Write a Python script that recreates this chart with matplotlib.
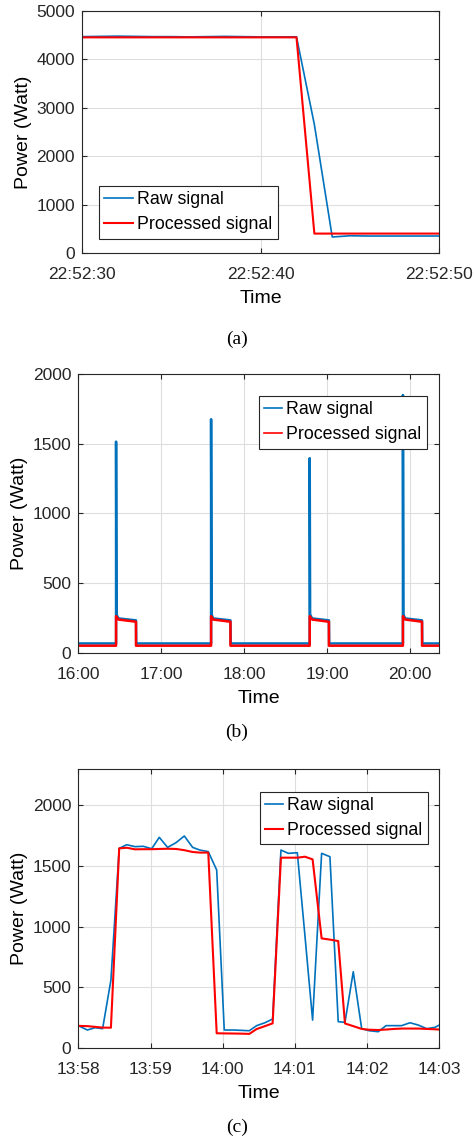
import numpy as np
import matplotlib
matplotlib.use('Agg')
import matplotlib.pyplot as plt
import matplotlib.dates as mdates

plt.rcParams.update({
    'font.family': ['Liberation Sans', 'DejaVu Sans'],
    'font.size': 12.5,
    'axes.labelsize': 14,
    'legend.fontsize': 12.8,
    'axes.edgecolor': '#262626',
    'axes.linewidth': 0.8,
    'xtick.color': '#262626',
    'ytick.color': '#262626',
    'xtick.direction': 'in',
    'ytick.direction': 'in',
    'xtick.top': True,
    'ytick.right': True,
    'xtick.major.size': 3.5,
    'ytick.major.size': 3.5,
    'xtick.major.pad': 10,
    'ytick.major.pad': 5,
})

RAW_COLOR = '#0072BD'
PROC_COLOR = '#FF0000'

# (a) seconds after 22:52:30
a_sec = [0, 1, 2, 3, 4, 5, 6, 7, 8, 9, 10, 11, 12, 13, 14, 15, 16, 17, 18, 19, 20]
a_raw = [4465, 4470, 4475, 4470, 4465, 4465, 4460, 4465, 4470, 4465, 4460, 4460, 4462,
         2650, 330, 355, 350, 350, 350, 350, 350]
a_proc = [4450, 4450, 4450, 4450, 4450, 4450, 4450, 4450, 4450, 4450, 4450, 4450, 4450,
          400, 400, 400, 400, 400, 400, 400, 400]

# (b) minutes after 16:00
b_raw_min = [0, 27.3, 27.3, 27.6, 29.0, 41.7, 41.9,
             96.0, 96.0, 96.3, 97.5, 110.0, 110.2,
             167.3, 167.3, 167.6, 169.0, 181.2, 181.4,
             234.7, 234.7, 235.0, 236.3, 248.5, 248.7, 261]
b_raw = [66, 66, 1516, 275, 246, 232, 66,
         66, 1677, 275, 246, 232, 66,
         66, 1397, 275, 246, 232, 66,
         66, 1851, 275, 246, 232, 66, 66]
b_proc_min = [0, 27.3, 27.3, 29.0, 41.7, 41.7,
              96.0, 96.0, 97.5, 110.0, 110.0,
              167.3, 167.3, 169.0, 181.2, 181.2,
              234.7, 234.7, 236.3, 248.5, 248.5, 261]
b_proc = [50, 50, 262, 238, 222, 50,
          50, 262, 238, 222, 50,
          50, 262, 238, 222, 50,
          50, 262, 238, 222, 50, 50]

# (c) seconds after 13:58
c_sec = [0, 7.5, 13.9, 20.2, 27.1, 34, 40.2, 47.1, 54, 61, 67.3, 74.2, 81.2, 88.1, 95,
         101, 108, 115, 121.3, 128.8, 135.7, 142.1, 148.2, 155.1, 161.5, 168.4, 174.5,
         182, 188.4, 194.7, 202.2, 209.1, 216, 221.6, 228.5, 235.5, 241.8, 249.3, 255.7,
         262.6, 268.7, 275.6, 282.5, 289.5, 296.4, 300]
c_raw = [182, 146, 165, 157, 558, 1645, 1675, 1659, 1662, 1642, 1736, 1653, 1692, 1747, 1653,
         1631, 1618, 1466, 146, 146, 143, 140, 182, 206, 237, 1631, 1604,
         1609, 918, 228, 1604, 1576, 215, 209, 627, 157, 140, 132, 182,
         182, 182, 206, 187, 157, 168, 187]
c_proc = [180, 178, 172, 166, 165, 1645, 1650, 1637, 1638, 1638, 1640, 1642, 1640, 1630, 1615,
          1610, 1610, 119, 118, 117, 116, 114, 154, 178, 201, 1568, 1568,
          1568, 1576, 1554, 902, 892, 880, 200, 178, 155, 148, 146, 150,
          155, 158, 158, 158, 155, 152, 150]


def to_time(base, offsets, unit_ms):
    ms = np.round(np.asarray(offsets, dtype=float) * unit_ms).astype('int64')
    return np.datetime64(base) + ms.astype('timedelta64[ms]')


def style_axes(ax, ylim, yticks):
    ax.set_ylim(*ylim)
    ax.set_yticks(yticks)
    ax.grid(True, color='#dedede', linewidth=0.8)
    ax.set_axisbelow(True)
    ax.set_xlabel('Time', labelpad=6)
    ax.set_ylabel('Power (Watt)', labelpad=3)


def add_legend(ax, handlelength, **kw):
    leg = ax.legend(['Raw signal', 'Processed signal'], fancybox=False, framealpha=1,
                    edgecolor='#262626', handlelength=handlelength, handletextpad=0.25,
                    borderpad=0.3, labelspacing=0.45, borderaxespad=0, **kw)
    leg.get_frame().set_linewidth(0.8)
    return leg


fig = plt.figure(figsize=(4.74, 11.4), dpi=100)

# (a)
ax = fig.add_axes([0.173, 0.7781, 0.7542, 0.2125])
t = to_time('2017-01-01T22:52:30', a_sec, 1000)
ax.plot(t, a_raw, color=RAW_COLOR, lw=1.2)
ax.plot(t, a_proc, color=PROC_COLOR, lw=1.5)
ax.set_xlim(t[0], t[-1])
ax.xaxis.set_major_locator(mdates.SecondLocator(bysecond=[0, 10, 20, 30, 40, 50]))
ax.xaxis.set_major_formatter(mdates.DateFormatter('%H:%M:%S'))
style_axes(ax, (0, 5000), range(0, 5001, 1000))
add_legend(ax, 1.6, loc='lower left', bbox_to_anchor=(0.047, 0.059))

# (b)
ax = fig.add_axes([0.1652, 0.4275, 0.7616, 0.2442])
tr = to_time('2017-01-01T16:00', b_raw_min, 60000)
tp = to_time('2017-01-01T16:00', b_proc_min, 60000)
ax.plot(tr, b_raw, color=RAW_COLOR, lw=1.8)
ax.plot(tp, b_proc, color=PROC_COLOR, lw=1.8)
ax.set_xlim(tr[0], tr[-1])
ax.xaxis.set_major_locator(mdates.HourLocator())
ax.xaxis.set_major_formatter(mdates.DateFormatter('%H:%M'))
style_axes(ax, (0, 2000), range(0, 2001, 500))
leg = add_legend(ax, 1.0, loc='upper right', bbox_to_anchor=(0.966, 0.922))
for h in leg.get_lines():
    h.set_linewidth(1.2)

# (c)
ax = fig.add_axes([0.1652, 0.08096, 0.7616, 0.2445])
t = to_time('2017-01-01T13:58', c_sec, 1000)
ax.plot(t, c_raw, color=RAW_COLOR, lw=1.2)
ax.plot(t, c_proc, color=PROC_COLOR, lw=1.5)
ax.set_xlim(t[0], t[-1])
ax.xaxis.set_major_locator(mdates.MinuteLocator())
ax.xaxis.set_major_formatter(mdates.DateFormatter('%H:%M'))
style_axes(ax, (0, 2300), range(0, 2001, 500))
add_legend(ax, 1.0, loc='upper right', bbox_to_anchor=(0.9687, 0.9185))

# sub-figure captions
for y, lab in [(339, '(a)'), (732, '(b)'), (1127, '(c)')]:
    fig.text(0.5, 1 - y / 1140, lab, ha='center', va='center',
             family=['Liberation Serif', 'DejaVu Serif'], fontsize=14)

fig.savefig('out.png', dpi=100)
